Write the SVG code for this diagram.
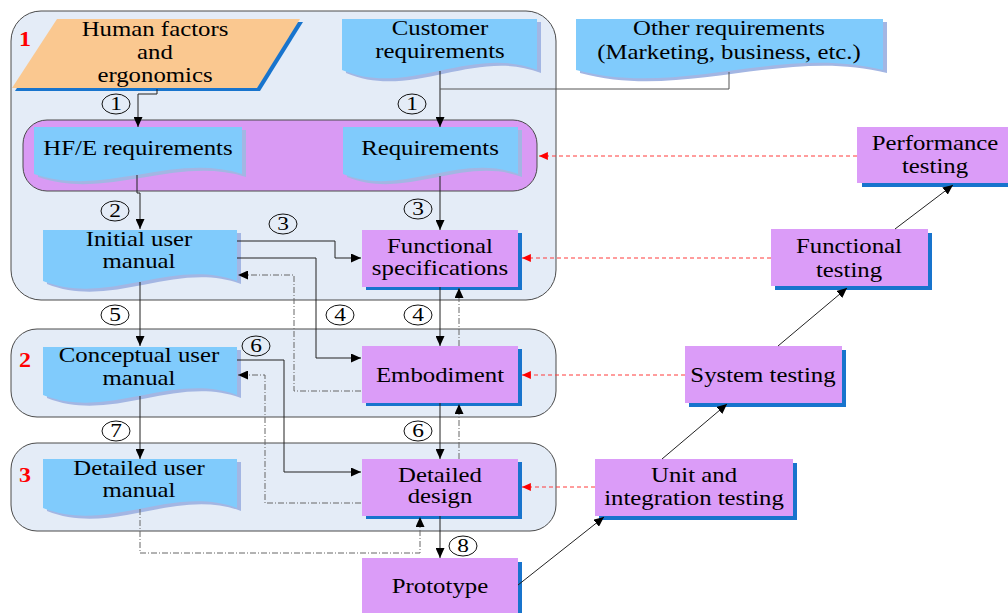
<svg xmlns="http://www.w3.org/2000/svg" xmlns:xlink="http://www.w3.org/1999/xlink" width="1008" height="613" viewBox="0 0 1008 613">
<defs>
<style>
.stage{fill:#E4ECF7;stroke:#4A4A4A;stroke-width:1}
.reqc{fill:#D99AF4;stroke:#4A4A4A;stroke-width:1}
.doc{fill:#80CBFC}
.docsh{fill:#A3B6E3}
.box{fill:#DB9CF8}
.boxsh{fill:#1874CD}
.t{font-family:"Liberation Serif","Times New Roman",serif;font-size:20px;fill:#000;text-anchor:middle}
.lbl{font-family:"Liberation Serif","Times New Roman",serif;font-size:20px;font-weight:bold;fill:#F00;text-anchor:middle}
.num ellipse{fill:none;stroke:#111;stroke-width:1}
.num text{font-family:"Liberation Serif","Times New Roman",serif;font-size:18px;fill:#000;text-anchor:middle}
.ln{fill:none;stroke:#222;stroke-width:1}
.gl{fill:none;stroke:#555;stroke-width:1}
.dd{fill:none;stroke:#666;stroke-width:1;stroke-dasharray:6 2 1 2}
.rd{fill:none;stroke:#FF3B3B;stroke-width:1;stroke-dasharray:4 3}
</style>
<marker id="ah" viewBox="0 0 10 9" refX="10" refY="4.5" markerWidth="10" markerHeight="9" markerUnits="userSpaceOnUse" orient="auto">
<path d="M0,0 L10,4.5 L0,9 z" fill="#000"/>
</marker>
<marker id="ahr" viewBox="0 0 10 9" refX="10" refY="4.5" markerWidth="10" markerHeight="8" markerUnits="userSpaceOnUse" orient="auto">
<path d="M0,0 L10,4.5 L0,9 z" fill="#F00"/>
</marker>
</defs>

<g id="stage1">
<rect class="stage" x="11" y="11" width="545" height="289" rx="30"/>
<text class="lbl" transform="translate(25 46) scale(1.2 1)">1</text>
</g>
<g id="stage2">
<rect class="stage" x="11" y="329" width="545" height="88" rx="26"/>
<text class="lbl" transform="translate(25 367) scale(1.2 1)">2</text>
</g>
<g id="stage3">
<rect class="stage" x="11" y="443" width="545" height="88" rx="26"/>
<text class="lbl" transform="translate(25 482) scale(1.2 1)">3</text>
</g>
<g id="requirementsGroup">
<rect class="reqc" x="23" y="120" width="514" height="71" rx="24"/>
</g>

<g id="humanFactors">
<polygon points="60,22 303,22 260,91 15,91" fill="#1874CD"/>
<polygon points="57,19 300,19 257,88 12,88" fill="#FAC890"/>
<text class="t" transform="translate(155 36) scale(1.24 1)">Human factors</text>
<text class="t" transform="translate(155 59) scale(1.24 1)">and</text>
<text class="t" transform="translate(155 82) scale(1.24 1)">ergonomics</text>
</g>

<g id="customerReq">
<path class="docsh" transform="translate(4 3)" d="M342,19 H537 V70 C472,44 407,98 342,70 Z"/>
<path class="doc" d="M342,19 H537 V70 C472,44 407,98 342,70 Z"/>
<text class="t" transform="translate(440 35) scale(1.24 1)">Customer</text>
<text class="t" transform="translate(440 58) scale(1.24 1)">requirements</text>
</g>

<g id="otherReq">
<path class="docsh" transform="translate(4 3)" d="M576,19 H883 V70 C781,44 678,98 576,70 Z"/>
<path class="doc" d="M576,19 H883 V70 C781,44 678,98 576,70 Z"/>
<text class="t" transform="translate(729 35) scale(1.24 1)">Other requirements</text>
<text class="t" transform="translate(729 59) scale(1.24 1)">(Marketing, business, etc.)</text>
</g>

<g id="hfeReq">
<path class="docsh" transform="translate(4 3)" d="M34,127 H242 V174 C173,152 103,198 34,174 Z"/>
<path class="doc" d="M34,127 H242 V174 C173,152 103,198 34,174 Z"/>
<text class="t" transform="translate(138 155) scale(1.24 1)">HF/E requirements</text>
</g>

<g id="requirements">
<path class="docsh" transform="translate(4 3)" d="M343,127 H518 V174 C460,152 401,198 343,174 Z"/>
<path class="doc" d="M343,127 H518 V174 C460,152 401,198 343,174 Z"/>
<text class="t" transform="translate(430 155) scale(1.24 1)">Requirements</text>
</g>

<g id="initialManual">
<path class="docsh" transform="translate(4 3)" d="M43,230 H237 V281 C172,257 108,307 43,281 Z"/>
<path class="doc" d="M43,230 H237 V281 C172,257 108,307 43,281 Z"/>
<text class="t" transform="translate(139 246) scale(1.24 1)">Initial user</text>
<text class="t" transform="translate(139 268) scale(1.24 1)">manual</text>
</g>

<g id="conceptualManual">
<path class="docsh" transform="translate(4 3)" d="M43,347 H237 V395 C172,371 108,421 43,395 Z"/>
<path class="doc" d="M43,347 H237 V395 C172,371 108,421 43,395 Z"/>
<text class="t" transform="translate(139 362) scale(1.24 1)">Conceptual user</text>
<text class="t" transform="translate(139 385) scale(1.24 1)">manual</text>
</g>

<g id="detailedManual">
<path class="docsh" transform="translate(4 3)" d="M43,459 H237 V508 C172,484 108,534 43,508 Z"/>
<path class="doc" d="M43,459 H237 V508 C172,484 108,534 43,508 Z"/>
<text class="t" transform="translate(139 475) scale(1.24 1)">Detailed user</text>
<text class="t" transform="translate(139 497) scale(1.24 1)">manual</text>
</g>

<g id="functionalSpec">
<rect class="boxsh" x="366" y="233" width="156" height="57"/>
<rect class="box" x="362" y="230" width="156" height="57"/>
<text class="t" transform="translate(440 253) scale(1.24 1)">Functional</text>
<text class="t" transform="translate(440 275) scale(1.24 1)">specifications</text>
</g>

<g id="embodiment">
<rect class="boxsh" x="366" y="349" width="156" height="57"/>
<rect class="box" x="362" y="346" width="156" height="57"/>
<text class="t" transform="translate(440 382) scale(1.24 1)">Embodiment</text>
</g>

<g id="detailedDesign">
<rect class="boxsh" x="366" y="462" width="156" height="57"/>
<rect class="box" x="362" y="459" width="156" height="57"/>
<text class="t" transform="translate(440 482) scale(1.24 1)">Detailed</text>
<text class="t" transform="translate(440 503) scale(1.24 1)">design</text>
</g>

<g id="prototype">
<rect class="boxsh" x="366" y="562" width="156" height="60"/>
<rect class="box" x="362" y="558" width="156" height="60"/>
<text class="t" transform="translate(440 593) scale(1.24 1)">Prototype</text>
</g>

<g id="performanceTesting">
<rect class="boxsh" x="862" y="131" width="156" height="56"/>
<rect class="box" x="857" y="127" width="156" height="56"/>
<text class="t" transform="translate(935 150) scale(1.24 1)">Performance</text>
<text class="t" transform="translate(935 173) scale(1.24 1)">testing</text>
</g>

<g id="functionalTesting">
<rect class="boxsh" x="775" y="233" width="157" height="57"/>
<rect class="box" x="771" y="229" width="157" height="57"/>
<text class="t" transform="translate(849 253) scale(1.24 1)">Functional</text>
<text class="t" transform="translate(849 277) scale(1.24 1)">testing</text>
</g>

<g id="systemTesting">
<rect class="boxsh" x="689" y="350" width="157" height="57"/>
<rect class="box" x="685" y="346" width="157" height="57"/>
<text class="t" transform="translate(763 382) scale(1.24 1)">System testing</text>
</g>

<g id="unitTesting">
<rect class="boxsh" x="599" y="463" width="198" height="57"/>
<rect class="box" x="595" y="459" width="198" height="57"/>
<text class="t" transform="translate(694 482) scale(1.24 1)">Unit and</text>
<text class="t" transform="translate(694 505) scale(1.24 1)">integration testing</text>
</g>

<g id="connectors">
<path class="ln" d="M157,89 V94 H138 V127" marker-end="url(#ah)"/>
<path class="ln" d="M440,71 V127" marker-end="url(#ah)"/>
<path class="gl" d="M729,72 V89 H440"/>
<path class="ln" d="M137,175 V193 H140 V229" marker-end="url(#ah)"/>
<path class="ln" d="M440,176 V230" marker-end="url(#ah)"/>
<path class="ln" d="M237,241 H335 V258 H361" marker-end="url(#ah)"/>
<path class="ln" d="M237,258 H316 V358 H361" marker-end="url(#ah)"/>
<path class="ln" d="M140,282 V346" marker-end="url(#ah)"/>
<path class="ln" d="M440,287 V346" marker-end="url(#ah)"/>
<path class="ln" d="M237,360 H284 V472 H361" marker-end="url(#ah)"/>
<path class="ln" d="M140,396 V459" marker-end="url(#ah)"/>
<path class="ln" d="M440,403 V459" marker-end="url(#ah)"/>
<path class="ln" d="M440,516 V558" marker-end="url(#ah)"/>

<path class="dd" d="M361,391 H294 V275 H238" marker-end="url(#ah)"/>
<path class="dd" d="M459,346 V288" marker-end="url(#ah)"/>
<path class="dd" d="M361,503 H265 V375 H238" marker-end="url(#ah)"/>
<path class="dd" d="M459,459 V404" marker-end="url(#ah)"/>
<path class="dd" d="M140,509 V553 H420 V517" marker-end="url(#ah)"/>

<path class="rd" d="M857,156 H539" marker-end="url(#ahr)"/>
<path class="rd" d="M771,258 H522" marker-end="url(#ahr)"/>
<path class="rd" d="M685,375 H522" marker-end="url(#ahr)"/>
<path class="rd" d="M595,487 H522" marker-end="url(#ahr)"/>

<path class="ln" d="M518,585 L604,517" marker-end="url(#ah)"/>
<path class="ln" d="M662,459 L727,404" marker-end="url(#ah)"/>
<path class="ln" d="M778,346 L847,288" marker-end="url(#ah)"/>
<path class="ln" d="M895,229 L953,185" marker-end="url(#ah)"/>
</g>

<g id="stepNumbers">
<g class="num" transform="translate(116 104)"><ellipse rx="14" ry="10"/><text transform="translate(0 6) scale(1.3 1)">1</text></g>
<g class="num" transform="translate(412 104)"><ellipse rx="14" ry="10"/><text transform="translate(0 6) scale(1.3 1)">1</text></g>
<g class="num" transform="translate(115 211)"><ellipse rx="14" ry="10"/><text transform="translate(0 6) scale(1.3 1)">2</text></g>
<g class="num" transform="translate(283 224)"><ellipse rx="14" ry="10"/><text transform="translate(0 6) scale(1.3 1)">3</text></g>
<g class="num" transform="translate(418 209)"><ellipse rx="14" ry="10"/><text transform="translate(0 6) scale(1.3 1)">3</text></g>
<g class="num" transform="translate(115 315)"><ellipse rx="14" ry="10"/><text transform="translate(0 6) scale(1.3 1)">5</text></g>
<g class="num" transform="translate(340 315)"><ellipse rx="14" ry="10"/><text transform="translate(0 6) scale(1.3 1)">4</text></g>
<g class="num" transform="translate(418 315)"><ellipse rx="14" ry="10"/><text transform="translate(0 6) scale(1.3 1)">4</text></g>
<g class="num" transform="translate(256 346)"><ellipse rx="14" ry="10"/><text transform="translate(0 6) scale(1.3 1)">6</text></g>
<g class="num" transform="translate(116 431)"><ellipse rx="14" ry="10"/><text transform="translate(0 6) scale(1.3 1)">7</text></g>
<g class="num" transform="translate(418 431)"><ellipse rx="14" ry="10"/><text transform="translate(0 6) scale(1.3 1)">6</text></g>
<g class="num" transform="translate(463 546)"><ellipse rx="14" ry="10"/><text transform="translate(0 6) scale(1.3 1)">8</text></g>
</g>
</svg>
